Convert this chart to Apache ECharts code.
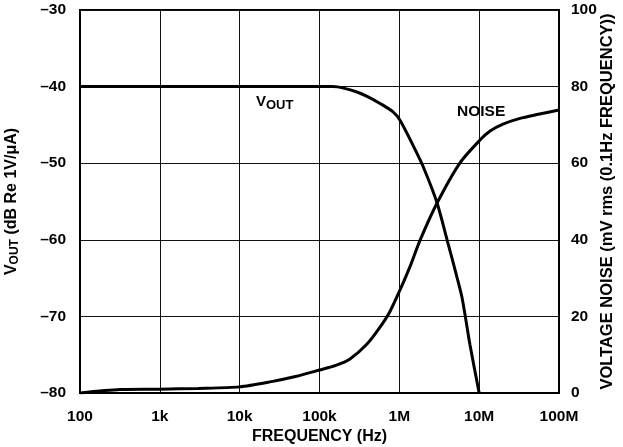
<!DOCTYPE html>
<html>
<head>
<meta charset="utf-8">
<script src="https://cdn.jsdelivr.net/npm/echarts@6/dist/echarts.min.js"></script>
<style>html,body{margin:0;padding:0;background:#fff;}#c{width:623px;height:447px;}</style>
</head>
<body>
<div id="c"></div>
<script>
// Frequency (Hz) and VOUT (dB Re 1V/uA)
const voutFreq = [100, 1000, 10000, 100000, 147000, 200000, 295000, 400000, 573000, 834000, 1020000, 1490000, 1980000, 2970000, 3960000, 4980000, 6090000, 7670000, 10000000];
const voutDb   = [-40, -40, -40, -40, -40, -40.2, -40.7, -41.3, -42.2, -43.3, -44.4, -47.7, -50.4, -55.2, -60.0, -63.9, -67.5, -73.7, -80];
// Frequency (Hz) and voltage noise (mV rms)
const noiseFreq = [100, 316, 1000, 3000, 10000, 24000, 50000, 100000, 160000, 241000, 394000, 573000, 764000, 1000000, 1360000, 1820000, 2970000, 5750000, 10300000, 13700000, 19900000, 32500000, 53000000, 100000000];
const noiseMv   = [0, 0.9, 1.0, 1.2, 1.6, 2.9, 4.3, 6.0, 7.2, 8.9, 12.8, 17.2, 21.3, 26.5, 33.0, 39.9, 49.6, 60.1, 66.1, 68.4, 70.2, 71.7, 72.7, 73.9];
const xTickLabels = {100: '100', 1000: '1k', 10000: '10k', 100000: '100k', 1000000: '1M', 10000000: '10M', 100000000: '100M'};

const FONT = '"Liberation Sans", Arial, sans-serif';
const chart = echarts.init(document.getElementById('c'), null, {renderer: 'canvas'});
const pair = (xs, ys) => xs.map((x, i) => [x, ys[i]]);
const tickFont = {fontFamily: FONT, fontWeight: 'bold', fontSize: 15.5, color: '#000'};

chart.setOption({
  animation: false,
  backgroundColor: '#fff',
  grid: {left: 80, right: 64, top: 10, bottom: 54, containLabel: false, outerBoundsMode: 'none',
    show: true, borderColor: '#000', borderWidth: 2, backgroundColor: 'transparent'},
  xAxis: {
    type: 'log', logBase: 10, min: 100, max: 100000000,
    name: 'FREQUENCY (Hz)', nameLocation: 'middle', nameGap: 36, nameMoveOverlap: false,
    nameTextStyle: {fontFamily: FONT, fontWeight: 'bold', fontSize: 16, color: '#000'},
    axisLine: {show: true, lineStyle: {color: '#000', width: 2}},
    axisTick: {show: false}, minorTick: {show: false},
    axisLabel: Object.assign({margin: 16, formatter: v => xTickLabels[Math.round(v)] || ''}, tickFont),
    splitLine: {show: true, lineStyle: {color: '#111', width: 1}}
  },
  yAxis: [{
    type: 'value', min: -80, max: -30, interval: 10, position: 'left',
    name: '{n|V}{s|OUT}{n| (dB Re 1V/μA)}', nameLocation: 'middle', nameGap: 59, nameRotate: 90, nameMoveOverlap: false,
    nameTextStyle: {rich: {
      n: {fontFamily: FONT, fontWeight: 'bold', fontSize: 16, color: '#000'},
      s: {fontFamily: FONT, fontWeight: 'bold', fontSize: 12, color: '#000', padding: [7, 0, 0, 0]}
    }},
    axisLine: {show: true, lineStyle: {color: '#000', width: 2}},
    axisTick: {show: false},
    axisLabel: Object.assign({margin: 14, padding: [7, 0, 0, 0],
      formatter: v => v < 0 ? '\u2013' + Math.abs(v) : String(v)}, tickFont),
    splitLine: {show: true, lineStyle: {color: '#111', width: 1}}
  }, {
    type: 'value', min: 0, max: 100, interval: 20, position: 'right',
    name: 'VOLTAGE NOISE (mV rms (0.1Hz FREQUENCY))', nameLocation: 'middle', nameGap: 40, nameRotate: 90, nameMoveOverlap: false,
    nameTextStyle: {fontFamily: FONT, fontWeight: 'bold', fontSize: 16.5, color: '#000'},
    axisLine: {show: true, lineStyle: {color: '#000', width: 2}},
    axisTick: {show: false},
    axisLabel: Object.assign({margin: 12, padding: [7, 0, 0, 0]}, tickFont),
    splitLine: {show: false}
  }],
  series: [{
    name: 'VOUT', type: 'line', yAxisIndex: 0, data: pair(voutFreq, voutDb),
    smooth: 0.25, showSymbol: false, symbol: 'none',
    lineStyle: {color: '#000', width: 3}, z: 5
  }, {
    name: 'NOISE', type: 'line', yAxisIndex: 1, data: pair(noiseFreq, noiseMv),
    smooth: 0.25, showSymbol: false, symbol: 'none',
    lineStyle: {color: '#000', width: 3}, z: 5
  }],
  graphic: [{
    type: 'text', left: 256, top: 94, z: 10,
    style: {text: '{n|V}{s|OUT}', rich: {
      n: {fontFamily: FONT, fontWeight: 'bold', fontSize: 15, fill: '#000'},
      s: {fontFamily: FONT, fontWeight: 'bold', fontSize: 13, fill: '#000', padding: [8, 0, 0, 0]}
    }}
  }, {
    type: 'text', left: 457, top: 104, z: 10,
    style: {text: 'NOISE', fontFamily: FONT, fontWeight: 'bold', fontSize: 15.5, fill: '#000'}
  }]
});
</script>
</body>
</html>
